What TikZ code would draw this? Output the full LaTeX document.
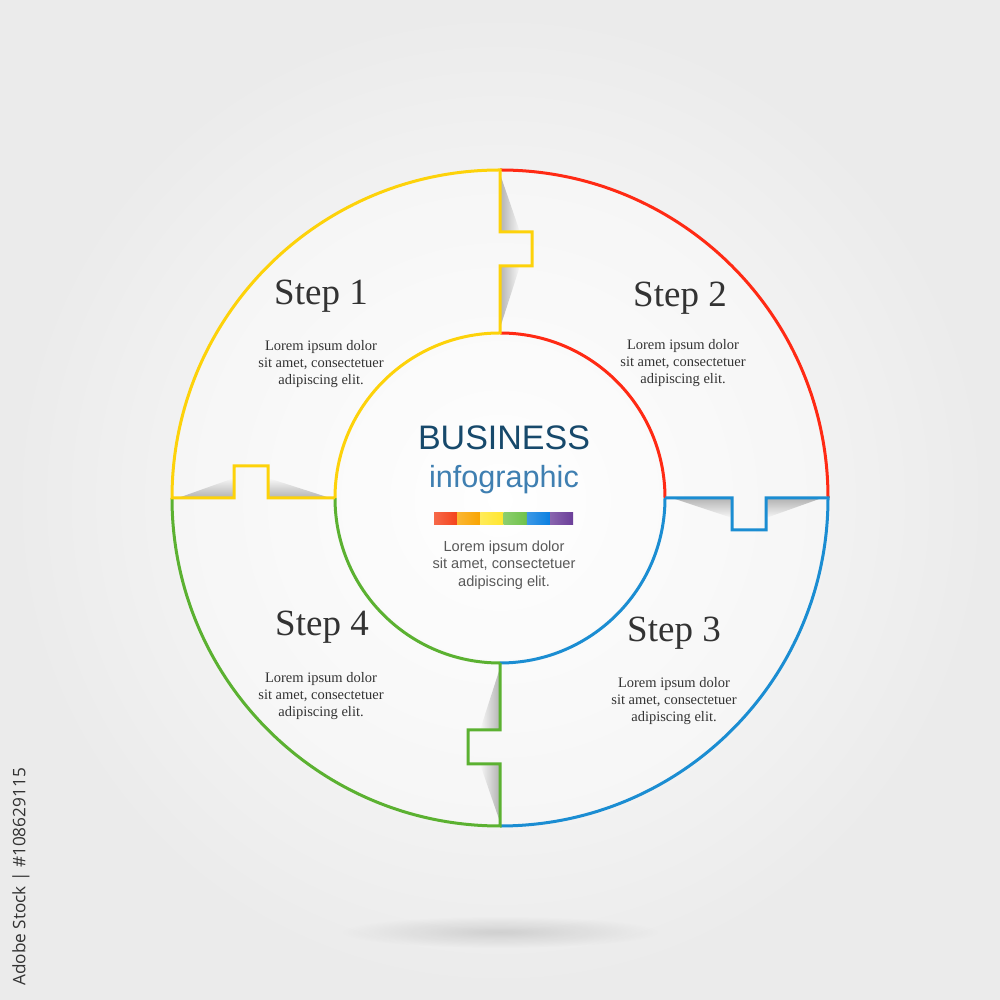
\documentclass[tikz,border=0pt]{standalone}
\usepackage{fontspec}
\setmainfont{Liberation Serif}
\setsansfont{Liberation Sans}
\newfontfamily\stockfont{Open Sans}
\usetikzlibrary{positioning,fadings}
\definecolor{stepyellow}{HTML}{FDD20A}
\definecolor{stepred}{HTML}{FF2A14}
\definecolor{stepblue}{HTML}{1B8DD2}
\definecolor{stepgreen}{HTML}{5BB131}
\definecolor{titleblue}{HTML}{17496B}
\definecolor{subblue}{HTML}{3F7FB1}
\definecolor{textgray}{HTML}{333333}
\definecolor{barred}{HTML}{F4431C}
\definecolor{barorange}{HTML}{F9A400}
\definecolor{baryellow}{HTML}{FFE62E}
\definecolor{bargreen}{HTML}{6FC24A}
\definecolor{barblue}{HTML}{0B7FE0}
\definecolor{barpurple}{HTML}{6B3E99}
\tikzfading[name=softspot, inner color=transparent!0, outer color=transparent!100]
\tikzfading[name=toeast, left color=transparent!0, right color=transparent!100]
\tikzfading[name=towest, right color=transparent!0, left color=transparent!100]
\tikzfading[name=tonorth, bottom color=transparent!0, top color=transparent!100]
\tikzfading[name=tosouth, top color=transparent!0, bottom color=transparent!100]

\begin{document}
\begin{tikzpicture}[x=0.5pt, y=0.5pt,
  ring/.style={line width=1.5pt, line join=miter},
  curl/.style={fill=black, opacity=0.28},
  curlright/.style={curl, path fading=toeast},
  curlleft/.style={curl, path fading=towest},
  curlup/.style={curl, path fading=tonorth},
  curldown/.style={curl, path fading=tosouth},
  steptitle/.style={anchor=base, font=\fontsize{18.5}{22}\selectfont, text=textgray},
  lorem/.style={align=center, font=\fontsize{7.25}{8.5}\selectfont, text=textgray},
  centrelorem/.style={align=center, font=\sffamily\fontsize{7.3}{8.75}\selectfont, text=black!65},
]
  \useasboundingbox (0,0) rectangle (1000,1000);
  \shade[inner color=white, outer color=black!8] (0,0) rectangle (1000,1000);
  \fill[black, opacity=0.12, path fading=softspot] (500,68) ellipse [x radius=160, y radius=16];
  \coordinate (c) at (500,502);
  \fill[white, opacity=0.35] (c) circle [radius=328];

  \fill[curlright] (500,826) -- (500,768) -- (520,768) -- cycle;
  \fill[curlright] (500,734) -- (520,734) -- (500,672) -- cycle;
  \fill[curldown] (672,502) -- (732,502) -- (732,482) -- cycle;
  \fill[curldown] (766,502) -- (822,502) -- (766,482) -- cycle;
  \fill[curlleft] (500,332) -- (500,270) -- (480,270) -- cycle;
  \fill[curlleft] (500,236) -- (480,236) -- (500,178) -- cycle;
  \fill[curlup] (178,502) -- (234,502) -- (234,522) -- cycle;
  \fill[curlup] (268,502) -- (330,502) -- (268,522) -- cycle;

  \draw[ring, draw=stepred] (500,830) arc [start angle=90, end angle=0, radius=328]
    (500,667) arc [start angle=90, end angle=0, radius=165];
  \draw[ring, draw=stepblue] (665,502) -- (732,502) -- (732,470) -- (766,470) -- (766,502) -- (828,502)
    arc [start angle=0, end angle=-90, radius=328]
    (500,337) arc [start angle=-90, end angle=0, radius=165];
  \draw[ring, draw=stepgreen] (500,337) -- (500,270) -- (468,270) -- (468,236) -- (500,236) -- (500,174)
    arc [start angle=-90, end angle=-180, radius=328]
    (335,502) arc [start angle=180, end angle=270, radius=165];
  \draw[ring, draw=stepyellow] (335,502) -- (268,502) -- (268,534) -- (234,534) -- (234,502) -- (172,502)
    arc [start angle=180, end angle=90, radius=328] -- (500,768) -- (532,768) -- (532,734) -- (500,734) -- (500,667)
    arc [start angle=90, end angle=180, radius=165];

  \node[steptitle] (step1) at (321,695) {Step 1};
  \node[steptitle] (step2) at (680,693) {Step 2};
  \node[steptitle] (step3) at (674,358) {Step 3};
  \node[steptitle] (step4) at (322,364) {Step 4};
  \node[lorem] (lorem1) at (321,636) {Lorem ipsum dolor\\sit amet, consectetuer\\adipiscing elit.};
  \node[lorem] (lorem2) at (683,637) {Lorem ipsum dolor\\sit amet, consectetuer\\adipiscing elit.};
  \node[lorem] (lorem3) at (674,299) {Lorem ipsum dolor\\sit amet, consectetuer\\adipiscing elit.};
  \node[lorem] (lorem4) at (321,304) {Lorem ipsum dolor\\sit amet, consectetuer\\adipiscing elit.};

  \node[anchor=base, font=\sffamily\fontsize{17}{20}\selectfont, text=titleblue] (business) at (504,550) {BUSINESS};
  \node[anchor=base, font=\sffamily\fontsize{15.3}{18}\selectfont, text=subblue] (infographic) at (504,512) {infographic};
  \foreach \col [count=\i from 0] in {barred,barorange,baryellow,bargreen,barblue,barpurple}
    \shade[left color=\col!80!white, right color=\col] ({434+\i*23.2},475) rectangle ++(23.2,12);
  \node[centrelorem] (centrelorem) at (504,435) {Lorem ipsum dolor\\sit amet, consectetuer\\adipiscing elit.};

  \node[rotate=90, font=\stockfont\fontsize{8.6}{10}\selectfont, text=black!80] (stock) at (21,123) {Adobe Stock | \#108629115};
\end{tikzpicture}
\end{document}
